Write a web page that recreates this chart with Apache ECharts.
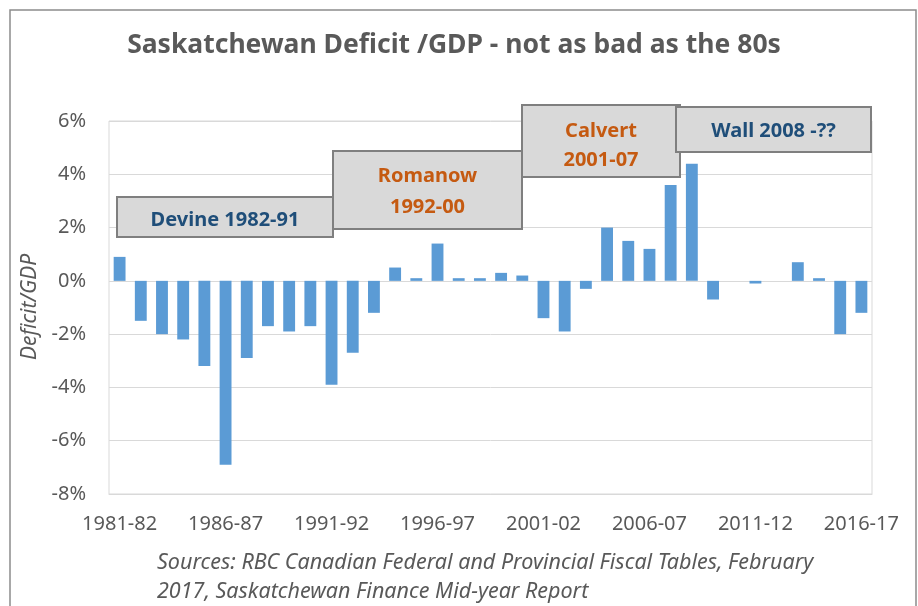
<!DOCTYPE html>
<html><head><meta charset="utf-8">
<script src="https://cdn.jsdelivr.net/npm/echarts@6/dist/echarts.min.js"></script>
<style>html,body{margin:0;padding:0;background:#fff}#c{width:918px;height:606px}</style>
</head><body><div id="c"></div>
<script>
const categories = ['1981-82','1982-83','1983-84','1984-85','1985-86','1986-87','1987-88','1988-89','1989-90','1990-91','1991-92','1992-93','1993-94','1994-95','1995-96','1996-97','1997-98','1998-99','1999-00','2000-01','2001-02','2002-03','2003-04','2004-05','2005-06','2006-07','2007-08','2008-09','2009-10','2010-11','2011-12','2012-13','2013-14','2014-15','2015-16','2016-17'];
const deficitGDP = [0.9,-1.5,-2.0,-2.2,-3.2,-6.9,-2.9,-1.7,-1.9,-1.7,-3.9,-2.7,-1.2,0.5,0.1,1.4,0.1,0.1,0.3,0.2,-1.4,-1.9,-0.3,2.0,1.5,1.2,3.6,4.4,-0.7,0,-0.1,0,0.7,0.1,-2.0,-1.2];
const yTicks = [-8,-6,-4,-2,0,2,4,6];
const titleText = 'Saskatchewan Deficit /GDP - not as bad as the 80s';
const yAxisName = 'Deficit/GDP';
const sourceLines = ['Sources: RBC Canadian Federal and Provincial Fiscal Tables, February','2017, Saskatchewan Finance Mid-year Report'];
const notes = [
  {lines:['Devine 1982-91'], color:'#1f4e79'},
  {lines:['Romanow','1992-00'], color:'#c55a11'},
  {lines:['Calvert','2001-07'], color:'#c55a11'},
  {lines:['Wall 2008 -??'], color:'#1f4e79'}
];
const F = '"Noto Sans", sans-serif';
const boxes = [
  {x:117, y:197, w:216, h:40, ty:[220]},
  {x:333, y:151, w:189, h:78, ty:[176,207]},
  {x:522, y:105, w:158, h:72, ty:[131,160]},
  {x:676, y:107, w:195, h:45, ty:[131]}
];
const graphics = [
  {type:'rect', shape:{x:10,y:10,width:906,height:610}, style:{fill:'none', stroke:'#8c8c8c', lineWidth:1.5}, z:0}
];
boxes.forEach((b,i)=>{
  graphics.push({type:'rect', shape:{x:b.x,y:b.y,width:b.w,height:b.h}, style:{fill:'#d9d9d9', stroke:'#7f7f7f', lineWidth:2}, z:10});
  notes[i].lines.forEach((t,j)=>{
    graphics.push({type:'text', x:b.x+b.w/2, y:b.ty[j], style:{text:t, fill:notes[i].color, font:'bold 20px '+F, textAlign:'center', textVerticalAlign:'middle'}, z:11});
  });
});
sourceLines.forEach((t,j)=>{
  graphics.push({type:'text', x:157, y:563+j*29, style:{text:t, fill:'#595959', font:'italic 21.5px '+F, textAlign:'left', textVerticalAlign:'middle'}, z:11});
});
graphics.push({type:'text', x:454, y:45, style:{text:titleText, fill:'#595959', font:'bold 26.5px '+F, textAlign:'center', textVerticalAlign:'middle'}, z:11});
graphics.push({type:'text', x:30, y:307, rotation:Math.PI/2, style:{text:yAxisName, fill:'#595959', font:'italic 21px '+F, textAlign:'center', textVerticalAlign:'middle'}, z:11});

const chart = echarts.init(document.getElementById('c'), null, {renderer:'canvas'});
chart.setOption({
  animation:false,
  grid:{left:109, right:46, top:121, height:373, show:true, borderColor:'#d9d9d9', borderWidth:1},
  xAxis:{type:'category', data:categories, boundaryGap:true,
    axisLine:{show:true, onZero:false, lineStyle:{color:'#d9d9d9'}}, axisTick:{show:false},
    axisLabel:{interval:4, color:'#595959', fontFamily:F, fontSize:20, margin:20}},
  yAxis:{type:'value', min:yTicks[0], max:yTicks[yTicks.length-1], interval:2,
    axisLine:{show:false}, axisTick:{show:false},
    splitLine:{lineStyle:{color:'#d9d9d9', width:1}},
    axisLabel:{formatter:v=>v+'%', color:'#595959', fontFamily:F, fontSize:20, margin:23}},
  series:[{type:'bar', data:deficitGDP, barWidth:'56%', itemStyle:{color:'#5b9bd5'}}],
  graphic:graphics
});
</script></body></html>
